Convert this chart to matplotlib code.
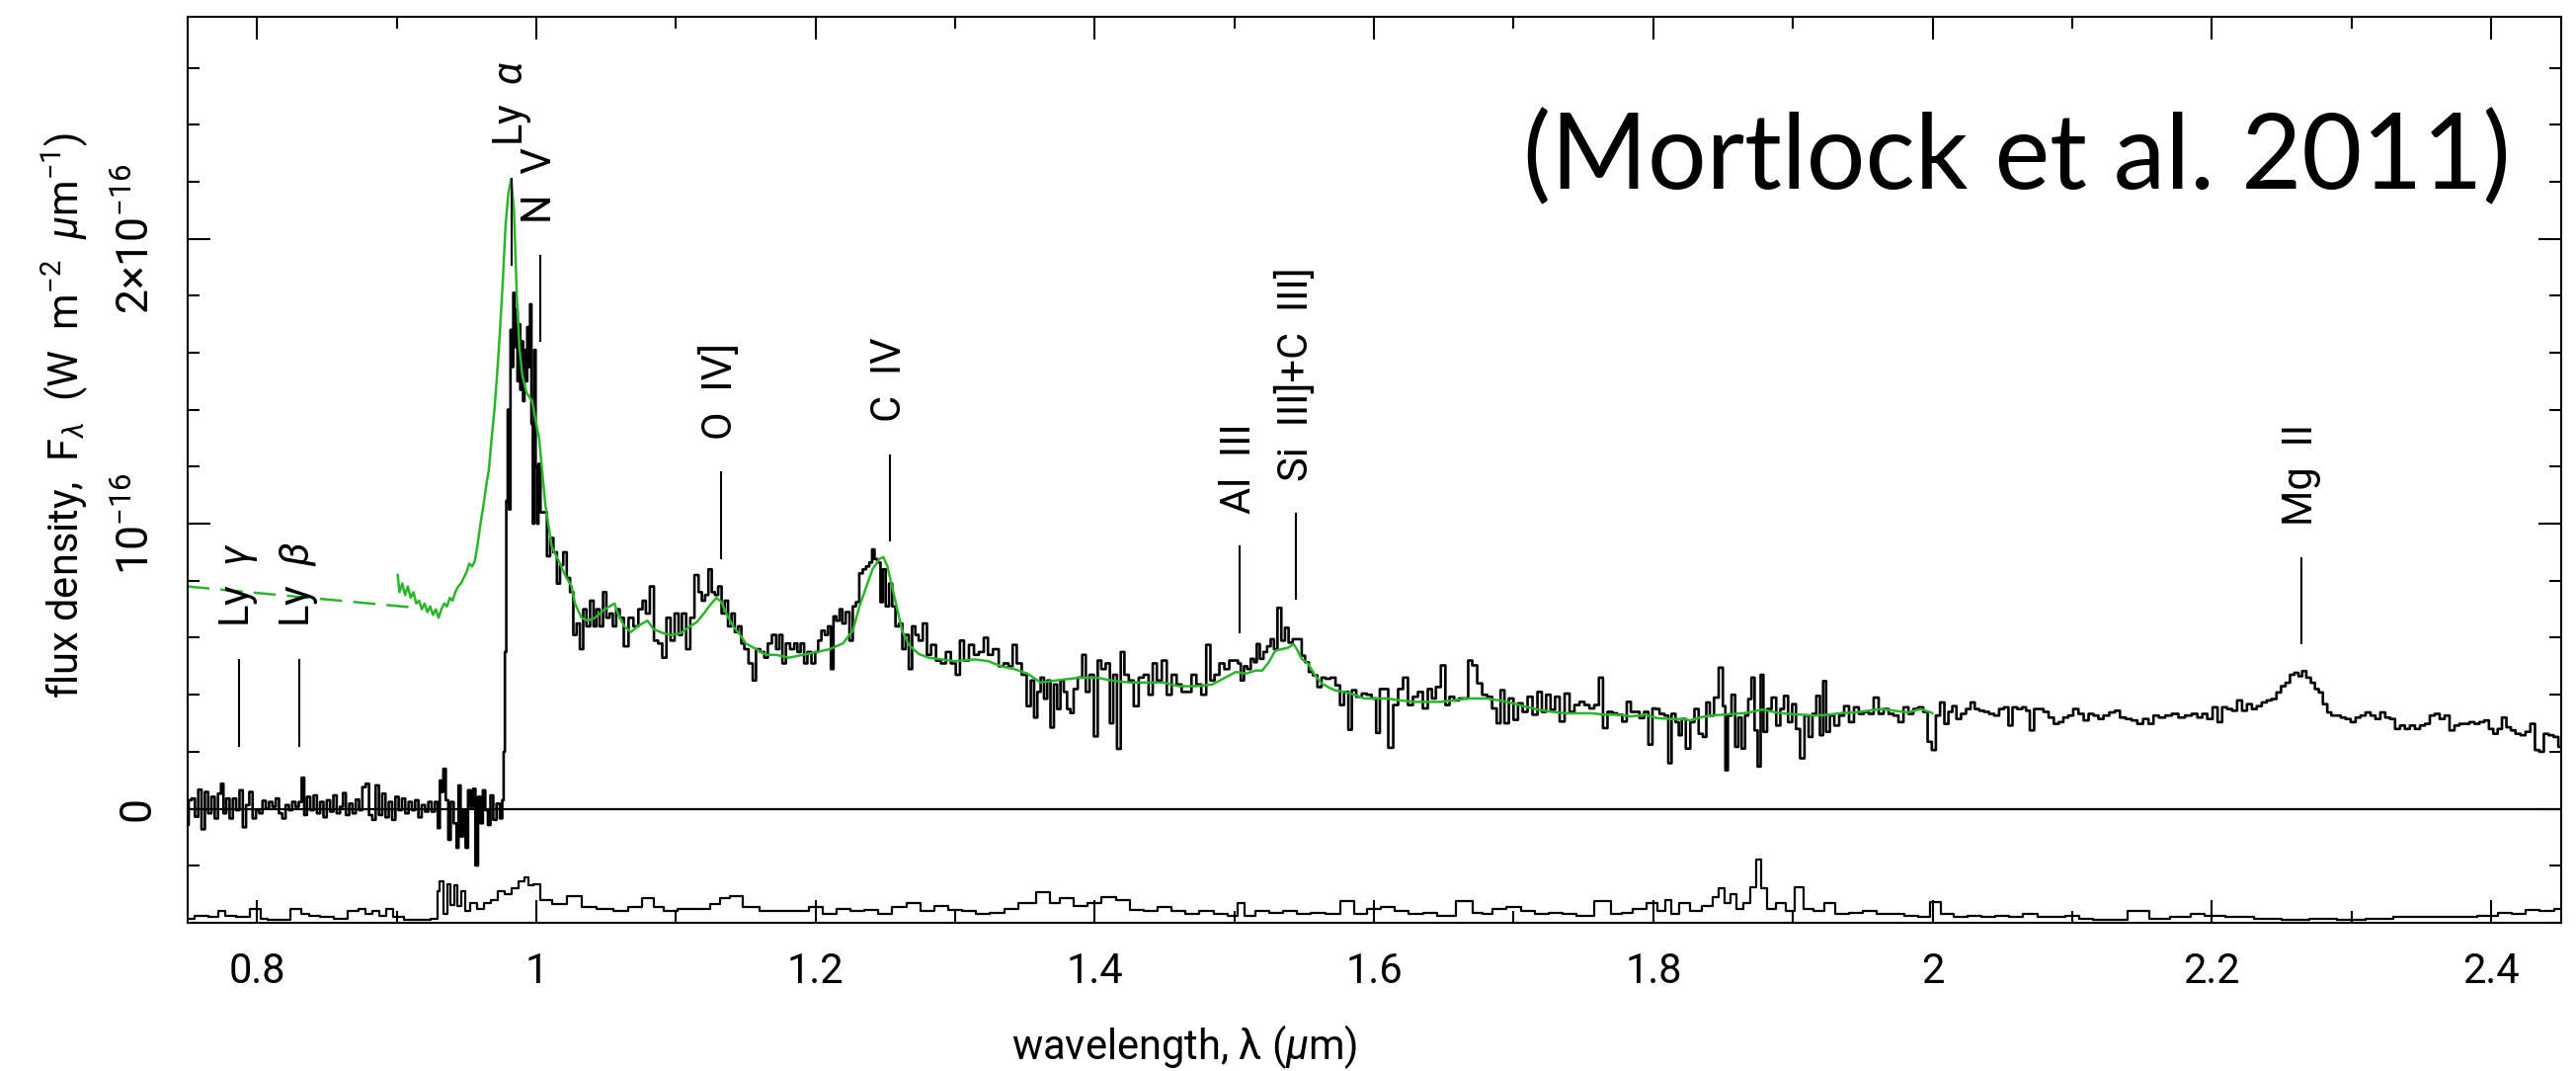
import matplotlib
matplotlib.use('Agg')
import matplotlib.pyplot as plt
from matplotlib.ticker import FixedLocator, MultipleLocator

# 字体：无衬线，接近 PGPLOT 的风格
plt.rcParams['font.family'] = ['Roboto', 'DejaVu Sans']
plt.rcParams['font.weight'] = 'normal'
plt.rcParams['mathtext.fontset'] = 'custom'
plt.rcParams['mathtext.rm'] = 'Roboto'
plt.rcParams['mathtext.it'] = 'Roboto:italic'

# 光谱数据（单位 1e-16 W m^-2 um^-1）
wave = [0.750, 0.752, 0.7543, 0.7567, 0.759, 0.7614, 0.7638, 0.7661, 0.7685, 0.7708,
        0.7732, 0.7751, 0.7767, 0.7791, 0.7815, 0.7838, 0.7862, 0.7886, 0.7909, 0.7933,
        0.7956, 0.798, 0.8004, 0.8027, 0.8051, 0.8074, 0.8098, 0.8122, 0.8145, 0.8169,
        0.8192, 0.8216, 0.824, 0.8263, 0.8287, 0.831, 0.8329, 0.8346, 0.8369, 0.8393,
        0.8417, 0.844, 0.8464, 0.8487, 0.8511, 0.8535, 0.8558, 0.8582, 0.8606, 0.8624,
        0.8648, 0.8672, 0.8695, 0.8719, 0.8742, 0.8766, 0.879, 0.8813, 0.8837, 0.8861,
        0.8884, 0.8908, 0.8931, 0.8955, 0.8979, 0.9002, 0.9026, 0.9049, 0.9073, 0.9097,
        0.912, 0.9144, 0.9167, 0.9191, 0.9215, 0.9238, 0.9262, 0.9285, 0.9304, 0.9314,
        0.9326, 0.9342, 0.9361, 0.9378, 0.9396, 0.942, 0.9437, 0.9448, 0.9467, 0.9484,
        0.9503, 0.9519, 0.9538, 0.9555, 0.9573, 0.9592, 0.9609, 0.9625, 0.9644, 0.9663,
        0.968, 0.9703, 0.9727, 0.975, 0.9762,
        0.977, 0.978, 0.979, 0.980, 0.981, 0.982, 0.983, 0.984, 0.985, 0.986,
        0.987, 0.988, 0.989, 0.990, 0.991, 0.992, 0.993, 0.994, 0.995, 0.996,
        0.997, 0.998, 0.999, 1.000, 1.001, 1.002, 1.004,
        1.0064, 1.0088, 1.011, 1.0135, 1.016, 1.018, 1.0206, 1.023, 1.0253, 1.0277,
        1.030, 1.0324, 1.0348, 1.037, 1.040, 1.042, 1.044, 1.0466, 1.049, 1.0513,
        1.0536, 1.056, 1.0584, 1.061, 1.0643, 1.0678, 1.0713, 1.0749, 1.0773, 1.0796,
        1.083, 1.0855, 1.089, 1.0914, 1.095, 1.0973, 1.1008, 1.103, 1.1056, 1.109,
        1.1115, 1.115, 1.1174, 1.1197, 1.122, 1.1245, 1.1268, 1.129, 1.1315, 1.1339,
        1.136, 1.1386, 1.141, 1.1433, 1.1457, 1.148, 1.150, 1.154, 1.156, 1.1587,
        1.162, 1.1646, 1.167, 1.1705, 1.173, 1.175, 1.1775, 1.180, 1.1835, 1.186,
        1.188, 1.1906, 1.193, 1.1953, 1.1988, 1.2007,
        1.203, 1.2054, 1.2078, 1.210, 1.212, 1.2137, 1.216, 1.2184, 1.220, 1.2231,
        1.2255, 1.2278, 1.230, 1.2326, 1.235, 1.2373, 1.2397, 1.2413, 1.2432, 1.2456,
        1.2474, 1.249, 1.2515, 1.2538, 1.256, 1.2585, 1.261, 1.2633, 1.2656, 1.268,
        1.2703, 1.2727, 1.275, 1.2786, 1.281, 1.2845, 1.288, 1.2916, 1.2951, 1.2987,
        1.3022, 1.3046, 1.308, 1.3117, 1.3152, 1.3187, 1.3223, 1.3247, 1.3294, 1.333,
        1.3364, 1.340, 1.3423, 1.3459, 1.3494, 1.353, 1.3553, 1.3577, 1.360, 1.3624,
        1.3648, 1.367, 1.3695, 1.3719, 1.3742, 1.3766, 1.379, 1.3813, 1.3837, 1.386,
        1.3896, 1.3924, 1.3947, 1.3978, 1.4009, 1.4033, 1.406, 1.4096, 1.412, 1.4144,
        1.4174, 1.4198, 1.4226, 1.4261, 1.4297, 1.4332, 1.4368, 1.4403, 1.4427, 1.4462,
        1.4498, 1.4533, 1.4568, 1.4604, 1.464, 1.4675, 1.471, 1.4745, 1.478, 1.4816,
        1.484, 1.4875, 1.491, 1.4946, 1.498, 1.5017,
        1.5034, 1.5057, 1.508, 1.5104, 1.513, 1.515, 1.517, 1.5194, 1.5222, 1.5246,
        1.5274, 1.5293, 1.5324, 1.5348, 1.5376, 1.540, 1.5435, 1.547, 1.5494, 1.5518,
        1.5548, 1.5577, 1.5612, 1.5636, 1.567, 1.5706, 1.5742, 1.577, 1.580, 1.5832,
        1.585, 1.5895, 1.593, 1.5966, 1.600, 1.603, 1.6053, 1.6084, 1.612, 1.6155,
        1.619, 1.6226, 1.626, 1.6297, 1.6332, 1.6367, 1.6403, 1.6426, 1.646, 1.6497,
        1.6525, 1.6556, 1.6592, 1.6627, 1.6663, 1.6686, 1.6721, 1.6757, 1.6792, 1.6828,
        1.6863, 1.6894, 1.6918, 1.695, 1.6981, 1.7017, 1.7045, 1.7083, 1.7116, 1.7154,
        1.7187, 1.7217, 1.7248, 1.7281, 1.7312, 1.7347, 1.7383, 1.7418, 1.7453, 1.749,
        1.7524, 1.756, 1.7595, 1.7626, 1.7654, 1.769, 1.7725, 1.776, 1.7796, 1.7824,
        1.7855, 1.7885, 1.7918, 1.795, 1.798, 1.8008,
        1.8027, 1.8062, 1.8098, 1.8117, 1.8145, 1.8173, 1.8192, 1.8216, 1.825, 1.828,
        1.831, 1.834, 1.837, 1.839, 1.842, 1.845, 1.8487, 1.851, 1.8523, 1.8546,
        1.8575, 1.8598, 1.862, 1.8645, 1.867, 1.869, 1.8716, 1.8735, 1.876, 1.8778,
        1.880, 1.883, 1.8865, 1.8896, 1.8924, 1.8948, 1.8983, 1.9007, 1.9037, 1.9066,
        1.910, 1.9125, 1.9155, 1.918, 1.9207, 1.9226, 1.925, 1.928, 1.9313, 1.935,
        1.9384, 1.942, 1.9455, 1.949, 1.9526, 1.956, 1.9597, 1.9632, 1.9668, 1.9703,
        1.9738, 1.9774, 1.981, 1.9845, 1.988, 1.9916, 1.995, 1.998, 2.001, 2.0038,
        2.007, 2.010, 2.0128, 2.0156, 2.0187, 2.0222, 2.0258, 2.0288, 2.0317, 2.0352,
        2.0388, 2.0423, 2.046, 2.0494, 2.053, 2.0558, 2.0588, 2.0624, 2.066, 2.068,
        2.0714, 2.0742, 2.0777, 2.0813, 2.085, 2.0888, 2.092, 2.0954, 2.099, 2.1025,
        2.1065, 2.110, 2.1136, 2.117, 2.1207, 2.1242, 2.129, 2.1325, 2.136, 2.1408,
        2.1443, 2.149, 2.1526, 2.1568, 2.1597, 2.1644, 2.169, 2.1738, 2.1785, 2.1833,
        2.188, 2.1915, 2.195, 2.1986, 2.2026, 2.2057, 2.2092, 2.2128, 2.2163, 2.220,
        2.2234, 2.227, 2.2305, 2.234, 2.2376, 2.241, 2.2447, 2.248, 2.2512, 2.2545,
        2.2576, 2.2607, 2.2635, 2.266, 2.2694, 2.2725, 2.2753, 2.278, 2.2812, 2.2843,
        2.287, 2.2907, 2.294, 2.2977, 2.3013, 2.3048, 2.3084, 2.312, 2.3155, 2.319,
        2.3225, 2.326, 2.3296, 2.333, 2.3367, 2.340, 2.3438, 2.3473, 2.351, 2.3544,
        2.358, 2.3615, 2.365, 2.3686, 2.372, 2.3757, 2.379, 2.3828, 2.3863, 2.390,
        2.3934, 2.397, 2.400, 2.4033, 2.4063, 2.4094, 2.4127, 2.4158, 2.4193, 2.423,
        2.4264, 2.430, 2.433, 2.4363, 2.4394, 2.443, 2.4465, 2.450]
flux = [-0.057, 0.03, 0.036, -0.028, 0.067, -0.072, 0.059, -0.016, 0.042, -0.034,
        0.053, 0.088, -0.016, 0.036, -0.034, 0.036, -0.005, 0.065, -0.065, 0.013,
        0.059, -0.034, -0.005, -0.016, 0.028, 0.0, 0.024, 0.007, 0.036, -0.016,
        -0.034, 0.013, -0.005, 0.024, 0.007, 0.024, 0.109, -0.022, 0.042, -0.005,
        0.047, -0.016, 0.024, -0.030, 0.030, -0.010, 0.047, -0.016, 0.007, 0.055,
        -0.022, 0.018, -0.016, 0.032, -0.005, 0.076, 0.088, -0.022, -0.039, 0.082,
        -0.022, 0.053, -0.030, 0.024, -0.039, 0.042, -0.005, 0.036, -0.016, 0.024,
        -0.005, 0.030, -0.030, 0.013, -0.010, 0.024, -0.010, 0.024, -0.068, 0.099,
        0.059, 0.140, 0.030, -0.109, 0.024, -0.051, -0.137, 0.082, -0.097, -0.005,
        -0.137, 0.065, 0.007, 0.070, -0.199, 0.042, -0.051, 0.065, -0.005, -0.057,
        0.047, -0.039, 0.018, -0.034, 0.030,
        0.20, 0.55, 1.08, 1.40, 1.05, 1.68, 1.55, 1.81, 1.62, 1.75,
        1.50, 1.70, 1.47, 1.64, 1.43, 1.61, 1.50, 1.69, 1.55, 1.77,
        1.35, 1.00, 1.61, 1.20, 1.00, 1.21, 1.04,
        1.04, 0.886, 0.95, 0.90, 0.79, 0.855, 0.90, 0.81, 0.76, 0.61,
        0.65, 0.56, 0.70, 0.64, 0.73, 0.64, 0.70, 0.64, 0.76, 0.67,
        0.685, 0.64, 0.70, 0.67, 0.57, 0.67, 0.64, 0.70, 0.73, 0.685,
        0.78, 0.59, 0.58, 0.53, 0.67, 0.59, 0.685, 0.61, 0.685, 0.56,
        0.67, 0.82, 0.76, 0.73, 0.75, 0.84, 0.76, 0.75, 0.78, 0.685,
        0.73, 0.64, 0.685, 0.62, 0.64, 0.58, 0.56, 0.51, 0.45, 0.56,
        0.55, 0.53, 0.58, 0.61, 0.56, 0.61, 0.51, 0.58, 0.56, 0.58,
        0.55, 0.58, 0.51, 0.55, 0.51, 0.55,
        0.59, 0.625, 0.61, 0.64, 0.49, 0.675, 0.66, 0.70, 0.65, 0.69,
        0.59, 0.71, 0.725, 0.826, 0.84, 0.85, 0.864, 0.91, 0.876, 0.864,
        0.725, 0.84, 0.71, 0.79, 0.71, 0.64, 0.65, 0.56, 0.61, 0.49,
        0.64, 0.61, 0.59, 0.65, 0.54, 0.575, 0.52, 0.51, 0.55, 0.51,
        0.47, 0.59, 0.52, 0.575, 0.54, 0.55, 0.60, 0.54, 0.56, 0.50,
        0.51, 0.50, 0.575, 0.51, 0.47, 0.36, 0.45, 0.32, 0.41, 0.46,
        0.386, 0.45, 0.285, 0.436, 0.35, 0.45, 0.41, 0.35, 0.336, 0.42,
        0.46, 0.54, 0.41, 0.47, 0.254, 0.52, 0.49, 0.51, 0.30, 0.47,
        0.21, 0.55, 0.47, 0.45, 0.36, 0.46, 0.47, 0.40, 0.51, 0.45,
        0.52, 0.40, 0.47, 0.436, 0.41, 0.41, 0.47, 0.436, 0.40, 0.575,
        0.45, 0.47, 0.51, 0.49, 0.52, 0.52,
        0.51, 0.45, 0.50, 0.49, 0.526, 0.514, 0.578, 0.526, 0.55, 0.57,
        0.595, 0.56, 0.705, 0.59, 0.635, 0.583, 0.595, 0.595, 0.537, 0.514,
        0.48, 0.468, 0.427, 0.46, 0.456, 0.46, 0.433, 0.364, 0.41, 0.277,
        0.416, 0.393, 0.404, 0.40, 0.387, 0.266, 0.42, 0.42, 0.214, 0.364,
        0.42, 0.46, 0.364, 0.393, 0.41, 0.352, 0.42, 0.387, 0.427, 0.503,
        0.364, 0.393, 0.38, 0.387, 0.387, 0.52, 0.503, 0.44, 0.40, 0.393,
        0.352, 0.30, 0.416, 0.30, 0.387, 0.312, 0.37, 0.34, 0.393, 0.33,
        0.41, 0.34, 0.40, 0.347, 0.393, 0.306, 0.404, 0.34, 0.364, 0.375,
        0.364, 0.352, 0.364, 0.46, 0.283, 0.34, 0.335, 0.33, 0.306, 0.375,
        0.34, 0.34, 0.318, 0.34, 0.225, 0.352,
        0.35, 0.333, 0.327, 0.16, 0.333, 0.304, 0.258, 0.315, 0.211, 0.304,
        0.35, 0.263, 0.252, 0.373, 0.327, 0.39, 0.495, 0.36, 0.135, 0.327,
        0.40, 0.217, 0.32, 0.211, 0.327, 0.385, 0.46, 0.275, 0.148, 0.47,
        0.27, 0.35, 0.39, 0.292, 0.35, 0.396, 0.304, 0.367, 0.28, 0.177,
        0.327, 0.252, 0.333, 0.396, 0.258, 0.448, 0.27, 0.327, 0.292, 0.327,
        0.36, 0.304, 0.356, 0.333, 0.34, 0.333, 0.39, 0.333, 0.35, 0.333,
        0.327, 0.304, 0.356, 0.333, 0.35, 0.356, 0.34, 0.235, 0.206, 0.327,
        0.373, 0.298, 0.34, 0.36, 0.315, 0.333, 0.35, 0.373, 0.35, 0.344,
        0.34, 0.333, 0.327, 0.35, 0.356, 0.292, 0.356, 0.35, 0.356, 0.344,
        0.275, 0.35, 0.35, 0.34, 0.32, 0.298, 0.304, 0.32, 0.327, 0.35,
        0.333, 0.31, 0.333, 0.327, 0.315, 0.327, 0.338, 0.344, 0.32, 0.315,
        0.31, 0.298, 0.315, 0.298, 0.327, 0.32, 0.327, 0.333, 0.32, 0.327,
        0.333, 0.32, 0.333, 0.315, 0.356, 0.304, 0.356, 0.35, 0.344, 0.38,
        0.344, 0.367, 0.35, 0.36, 0.373, 0.38, 0.385, 0.408, 0.43, 0.442,
        0.47, 0.477, 0.465, 0.483, 0.46, 0.442, 0.42, 0.408, 0.367, 0.338,
        0.327, 0.327, 0.32, 0.315, 0.304, 0.32, 0.327, 0.338, 0.327, 0.315,
        0.338, 0.32, 0.315, 0.28, 0.292, 0.28, 0.292, 0.28, 0.292, 0.298,
        0.327, 0.333, 0.315, 0.327, 0.275, 0.292, 0.298, 0.298, 0.304, 0.298,
        0.304, 0.31, 0.28, 0.263, 0.28, 0.32, 0.286, 0.275, 0.263, 0.258,
        0.27, 0.298, 0.206, 0.20, 0.263, 0.258, 0.252, 0.217]

# 误差谱
err_wave = [0.750, 0.760, 0.770, 0.775, 0.780, 0.790, 0.800, 0.805, 0.810, 0.820,
            0.828, 0.835, 0.840, 0.850, 0.860, 0.870, 0.875, 0.880, 0.885, 0.890,
            0.895, 0.900, 0.910, 0.920, 0.928, 0.930, 0.932, 0.935, 0.937, 0.940,
            0.942, 0.945, 0.948, 0.950, 0.955, 0.960, 0.965, 0.970, 0.975, 0.980,
            0.985, 0.990, 0.993, 0.996, 1.000, 1.006, 1.016, 1.028, 1.037, 1.049,
            1.061, 1.070, 1.082, 1.087, 1.096, 1.106, 1.120, 1.129, 1.134, 1.143,
            1.153, 1.167, 1.181, 1.191, 1.200, 1.210, 1.220, 1.230, 1.240, 1.250,
            1.260, 1.270, 1.280, 1.290, 1.300, 1.310, 1.320, 1.330, 1.340, 1.350,
            1.366, 1.370, 1.380, 1.390, 1.400, 1.410, 1.420, 1.430, 1.440, 1.450,
            1.460, 1.470, 1.480, 1.490, 1.500, 1.505, 1.510, 1.520, 1.530, 1.540,
            1.550, 1.560, 1.570, 1.582, 1.590, 1.600, 1.610, 1.620, 1.630, 1.640,
            1.650, 1.667, 1.675, 1.680, 1.690, 1.700, 1.710, 1.720, 1.730, 1.740,
            1.750, 1.765, 1.775, 1.780, 1.790, 1.800, 1.806, 1.811, 1.815, 1.822,
            1.830, 1.840, 1.845, 1.849, 1.853, 1.857, 1.862, 1.867, 1.872, 1.876,
            1.879, 1.884, 1.892, 1.898, 1.905, 1.910, 1.920, 1.925, 1.935, 1.945,
            1.955, 1.965, 1.975, 1.985, 1.995, 2.002, 2.010, 2.020, 2.030, 2.040,
            2.050, 2.060, 2.070, 2.080, 2.090, 2.100, 2.110, 2.120, 2.130, 2.150,
            2.160, 2.180, 2.190, 2.200, 2.220, 2.240, 2.260, 2.280, 2.300, 2.320,
            2.340, 2.360, 2.380, 2.400, 2.410, 2.420, 2.430, 2.440, 2.450]
err_flux = [0.015, 0.025, 0.020, 0.040, 0.025, 0.020, 0.050, 0.015, 0.010, 0.010,
            0.050, 0.030, 0.025, 0.020, 0.015, 0.040, 0.050, 0.030, 0.040, 0.025,
            0.050, 0.020, 0.010, 0.010, 0.015, 0.110, 0.144, 0.030, 0.135, 0.064,
            0.130, 0.060, 0.110, 0.040, 0.070, 0.050, 0.070, 0.080, 0.110, 0.100,
            0.120, 0.144, 0.160, 0.130, 0.134, 0.080, 0.065, 0.095, 0.057, 0.050,
            0.041, 0.057, 0.088, 0.057, 0.041, 0.050, 0.050, 0.065, 0.088, 0.095,
            0.057, 0.041, 0.041, 0.041, 0.057, 0.030, 0.050, 0.040, 0.045, 0.030,
            0.055, 0.070, 0.040, 0.060, 0.045, 0.040, 0.030, 0.035, 0.050, 0.070,
            0.107, 0.070, 0.085, 0.060, 0.070, 0.090, 0.080, 0.045, 0.040, 0.055,
            0.040, 0.030, 0.040, 0.030, 0.025, 0.070, 0.025, 0.040, 0.035, 0.040,
            0.030, 0.035, 0.030, 0.077, 0.030, 0.050, 0.055, 0.040, 0.030, 0.035,
            0.025, 0.077, 0.035, 0.030, 0.050, 0.055, 0.040, 0.030, 0.035, 0.030,
            0.025, 0.077, 0.030, 0.035, 0.050, 0.070, 0.040, 0.080, 0.030, 0.070,
            0.040, 0.060, 0.090, 0.120, 0.070, 0.100, 0.050, 0.070, 0.126, 0.222,
            0.120, 0.050, 0.070, 0.040, 0.126, 0.050, 0.040, 0.070, 0.030, 0.035,
            0.040, 0.030, 0.030, 0.025, 0.020, 0.074, 0.030, 0.020, 0.025, 0.020,
            0.025, 0.020, 0.030, 0.020, 0.020, 0.025, 0.015, 0.012, 0.010, 0.040,
            0.015, 0.020, 0.030, 0.025, 0.020, 0.015, 0.012, 0.015, 0.012, 0.015,
            0.020, 0.020, 0.022, 0.025, 0.035, 0.030, 0.045, 0.040, 0.050]
err_offset = -0.40

# 绿色：复合类星体模板
model_wave = [0.9007, 0.902, 0.904, 0.906, 0.908, 0.910, 0.912, 0.914, 0.916, 0.918,
              0.920, 0.922, 0.924, 0.926, 0.928, 0.930, 0.932, 0.934, 0.936, 0.938,
              0.940, 0.942, 0.944, 0.946, 0.948, 0.950, 0.952, 0.954, 0.956, 0.958,
              0.960, 0.962, 0.964, 0.966, 0.968, 0.970, 0.972, 0.974, 0.976, 0.978,
              0.980, 0.982, 0.984, 0.986, 0.988, 0.990, 0.993, 0.997, 1.000, 1.002,
              1.0064, 1.011, 1.016, 1.0206, 1.0253, 1.0277, 1.0324, 1.037, 1.042, 1.049,
              1.056, 1.0584, 1.063, 1.0678, 1.0725, 1.0796, 1.084, 1.0914, 1.096, 1.103,
              1.110, 1.115, 1.120, 1.1245, 1.129, 1.1327, 1.136, 1.141, 1.146, 1.150,
              1.1575, 1.1646, 1.1717, 1.181, 1.1906, 1.2007, 1.2101, 1.2196, 1.2267, 1.2314,
              1.2361, 1.2408, 1.2456, 1.2486, 1.2515, 1.255, 1.2585, 1.262, 1.2668, 1.2739,
              1.281, 1.2904, 1.2999, 1.314, 1.3235, 1.333, 1.3423, 1.3518, 1.3612, 1.3707,
              1.3801, 1.3896, 1.4014, 1.4132, 1.425, 1.4368, 1.4486, 1.4604, 1.4722, 1.484,
              1.4934, 1.501, 1.5081, 1.5152, 1.5199, 1.5246, 1.5293, 1.5341, 1.5388, 1.5423,
              1.5447, 1.5482, 1.5529, 1.5577, 1.5624, 1.5671, 1.5718, 1.5789, 1.586, 1.5931,
              1.6002, 1.6096, 1.619, 1.6285, 1.6379, 1.6474, 1.6568, 1.6663, 1.6804, 1.6899,
              1.6993, 1.7087, 1.7182, 1.7276, 1.7371, 1.7465, 1.756, 1.7654, 1.7748, 1.7843,
              1.7937, 1.8027, 1.8121, 1.8216, 1.8263, 1.8334, 1.8405, 1.8499, 1.8594, 1.8688,
              1.8782, 1.8877, 1.8971, 1.9066, 1.916, 1.9255, 1.9349, 1.9443, 1.9538, 1.9632,
              1.9727, 1.9821, 1.9916, 1.9998]
model_flux = [0.82, 0.76, 0.79, 0.75, 0.78, 0.74, 0.76, 0.72, 0.73, 0.70,
              0.72, 0.69, 0.71, 0.68, 0.70, 0.67, 0.70, 0.72, 0.71, 0.74,
              0.73, 0.76, 0.78, 0.79, 0.81, 0.83, 0.86, 0.85, 0.87, 0.93,
              1.00, 1.06, 1.13, 1.19, 1.30, 1.40, 1.53, 1.68, 1.85, 2.05,
              2.16, 2.21, 2.10, 1.80, 1.61, 1.52, 1.46, 1.43, 1.35, 1.30,
              1.07, 0.92, 0.87, 0.82, 0.78, 0.72, 0.67, 0.66, 0.67, 0.70,
              0.72, 0.685, 0.64, 0.62, 0.64, 0.66, 0.63, 0.615, 0.61, 0.615,
              0.64, 0.655, 0.685, 0.715, 0.74, 0.725, 0.685, 0.64, 0.61, 0.58,
              0.56, 0.54, 0.54, 0.53, 0.54, 0.55, 0.56, 0.58, 0.625, 0.71,
              0.775, 0.84, 0.876, 0.883, 0.85, 0.775, 0.70, 0.625, 0.575, 0.543,
              0.53, 0.524, 0.518, 0.524, 0.518, 0.50, 0.49, 0.474, 0.443, 0.449,
              0.455, 0.46, 0.46, 0.449, 0.443, 0.443, 0.443, 0.43, 0.43, 0.436,
              0.46, 0.48, 0.474, 0.485, 0.485, 0.514, 0.555, 0.56, 0.566, 0.578,
              0.56, 0.526, 0.508, 0.468, 0.44, 0.427, 0.416, 0.41, 0.40, 0.387,
              0.387, 0.387, 0.38, 0.375, 0.375, 0.375, 0.38, 0.387, 0.387, 0.38,
              0.37, 0.358, 0.347, 0.34, 0.335, 0.335, 0.335, 0.33, 0.33, 0.324,
              0.33, 0.318, 0.315, 0.315, 0.31, 0.32, 0.327, 0.33, 0.333, 0.338,
              0.348, 0.338, 0.333, 0.33, 0.327, 0.33, 0.336, 0.338, 0.344, 0.35,
              0.344, 0.338, 0.35, 0.336]

# 绿色虚线：Lyα 蓝端的连续谱外推
dash_wave = [0.750, 0.910]
dash_flux = [0.780, 0.707]

# 谱线标记
line_names = [r'Ly  $\gamma$', r'Ly  $\beta$', r'Ly  $\alpha$', 'N  V', 'O  IV]', 'C  IV',
              'Al  III', 'Si  III]+C  III]', 'Mg  II']
line_wave = [0.7868, 0.8299, 0.9826, 1.0027, 1.1322, 1.2531, 1.5034, 1.5442, 2.2642]
line_top = [0.521, 0.521, 2.21, 1.94, 1.18, 1.241, 0.919, 1.036, 0.88]

x_ticks = [0.8, 1.0, 1.2, 1.4, 1.6, 1.8, 2.0, 2.2, 2.4]
x_tick_labels = ['0.8', '1', '1.2', '1.4', '1.6', '1.8', '2', '2.2', '2.4']
y_ticks = [0, 1, 2]
y_tick_labels = ['0', r'10$^{-16}$', r'2$\times$10$^{-16}$']

green = '#2bb52b'

fig = plt.figure(figsize=(26.08, 10.84), dpi=100)
ax = fig.add_axes([0.0727, 0.1384, 0.9214, 0.8463])

# 黑色阶梯光谱 + 误差谱
ax.plot(wave, flux, drawstyle='steps-mid', color='black', lw=1.9)
ax.plot(err_wave, [e + err_offset for e in err_flux], drawstyle='steps-mid', color='black', lw=1.6)
ax.axhline(0, color='black', lw=1.6)

# 模板
ax.plot(model_wave, model_flux, color=green, lw=1.8)
ax.plot(dash_wave, dash_flux, color=green, lw=1.8, ls=(0, (9, 4.5)))

# 谱线位置与标注
for name, w, top in zip(line_names, line_wave, line_top):
    ax.plot([w, w], [top - 0.30, top], color='black', lw=1.5)
    ax.text(w, top + 0.115, name, rotation=90, ha='center', va='bottom', fontsize=30)

ax.text(0.979, 0.844, '(Mortlock et al. 2011)', transform=ax.transAxes,
        ha='right', va='center', fontsize=76, family=['Lato', 'DejaVu Sans'])

ax.set_xlim(0.75, 2.45)
ax.set_ylim(-0.40, 2.78)

ax.xaxis.set_major_locator(FixedLocator(x_ticks))
ax.set_xticklabels(x_tick_labels)
ax.xaxis.set_minor_locator(MultipleLocator(0.1))
ax.yaxis.set_major_locator(FixedLocator(y_ticks))
ax.set_yticklabels(y_tick_labels, rotation=90, va='center', fontsize=32)
ax.yaxis.set_minor_locator(MultipleLocator(0.2))

ax.tick_params(which='both', direction='in', top=True, right=True, width=1.5)
ax.tick_params(which='major', length=16.5)
ax.tick_params(axis='x', which='major', pad=21, labelsize=30)
ax.tick_params(axis='y', which='major', pad=21)
ax.tick_params(which='minor', length=8.6)
for s in ax.spines.values():
    s.set_linewidth(1.5)

ax.set_xlabel(r'wavelength, λ ($\mu$m)', fontsize=30)
ax.xaxis.set_label_coords(0.42, -0.11)
ax.set_ylabel(r'flux density,  F$_\lambda$  (W  m$^{-2}$  $\mu$m$^{-1}$)', fontsize=30)
ax.yaxis.set_label_coords(-0.041, 0.56)

fig.savefig('out.png', dpi=100)
